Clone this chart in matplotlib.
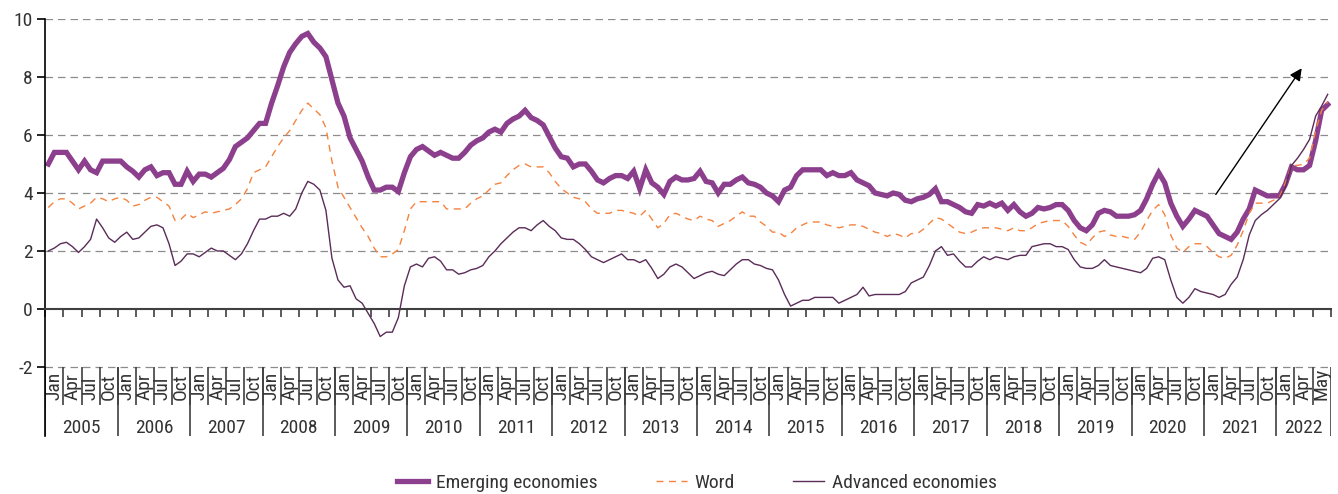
import numpy as np
import matplotlib
matplotlib.use("Agg")
import matplotlib.pyplot as plt

plt.rcParams['font.family'] = ['Liberation Sans Narrow', 'Roboto Condensed', 'DejaVu Sans']

# monthly series, Jan 2005 onwards (213 category slots on the axis)
emerging = [
    5.0, 5.4, 5.4, 5.4, 5.1, 4.8, 5.1, 4.8, 4.7, 5.1, 5.1, 5.1,
    5.1, 4.9, 4.75, 4.55, 4.8, 4.9, 4.6, 4.7, 4.7, 4.3, 4.3, 4.75,
    4.4, 4.65, 4.65, 4.55, 4.7, 4.85, 5.15, 5.6, 5.75, 5.9, 6.15, 6.4,
    6.4, 7.1, 7.7, 8.35, 8.85, 9.15, 9.4, 9.5, 9.2, 9.0, 8.7, 7.9,
    7.1, 6.65, 5.9, 5.5, 5.1, 4.55, 4.1, 4.1, 4.2, 4.2, 4.05, 4.7,
    5.25, 5.5, 5.6, 5.45, 5.3, 5.4, 5.3, 5.2, 5.2, 5.4, 5.65, 5.8,
    5.9, 6.1, 6.2, 6.1, 6.4, 6.55, 6.65, 6.85, 6.6, 6.5, 6.35, 5.95,
    5.55, 5.25, 5.2, 4.9, 5.0, 5.0, 4.75, 4.45, 4.35, 4.5, 4.6, 4.6,
    4.5, 4.75, 4.15, 4.8, 4.35, 4.2, 3.95, 4.4, 4.55, 4.45, 4.45, 4.5,
    4.75, 4.4, 4.35, 4.0, 4.3, 4.3, 4.45, 4.55, 4.35, 4.3, 4.2, 4.0,
    3.9, 3.7, 4.1, 4.2, 4.6, 4.8, 4.8, 4.8, 4.8, 4.6, 4.7, 4.6,
    4.6, 4.7, 4.45, 4.35, 4.25, 4.0, 3.95, 3.9, 4.0, 3.95, 3.75, 3.7,
    3.8, 3.85, 3.95, 4.15, 3.7, 3.7, 3.6, 3.5, 3.35, 3.3, 3.6, 3.55,
    3.65, 3.55, 3.65, 3.4, 3.6, 3.35, 3.2, 3.3, 3.5, 3.45, 3.5, 3.6,
    3.6, 3.4, 3.05, 2.8, 2.7, 2.9, 3.3, 3.4, 3.35, 3.2, 3.2, 3.2,
    3.25, 3.4, 3.8, 4.3, 4.7, 4.35, 3.65, 3.2, 2.85, 3.1, 3.4, 3.3,
    3.2, 2.9, 2.6, 2.5, 2.4, 2.65, 3.1, 3.45, 4.1, 4.0, 3.9, 3.9,
    3.9, 4.3, 4.9, 4.8, 4.8, 4.95, 5.8, 6.85, 7.05,
]
world = [
    3.5, 3.7, 3.8, 3.8, 3.65, 3.45, 3.55, 3.65, 3.85, 3.8, 3.7, 3.8,
    3.85, 3.75, 3.55, 3.6, 3.75, 3.85, 3.85, 3.7, 3.55, 3.05, 3.1, 3.3,
    3.15, 3.25, 3.35, 3.3, 3.35, 3.4, 3.45, 3.6, 3.8, 4.15, 4.7, 4.8,
    4.9, 5.25, 5.6, 5.9, 6.15, 6.5, 6.85, 7.1, 6.9, 6.7, 6.25, 5.1,
    4.2, 3.85, 3.5, 3.15, 2.8, 2.5, 2.1, 1.8, 1.8, 1.9, 2.05, 2.7,
    3.45, 3.7, 3.7, 3.7, 3.7, 3.7, 3.45, 3.45, 3.45, 3.45, 3.65, 3.8,
    3.9, 4.1, 4.3, 4.35, 4.6, 4.8, 4.95, 5.0, 4.9, 4.9, 4.9, 4.7,
    4.4, 4.15, 4.0, 3.85, 3.8, 3.7, 3.45, 3.3, 3.3, 3.3, 3.4, 3.4,
    3.35, 3.3, 3.2, 3.4, 3.1, 2.8, 2.95, 3.25, 3.3, 3.2, 3.1, 3.05,
    3.2, 3.1, 3.05, 2.85, 2.95, 3.05, 3.2, 3.35, 3.2, 3.2, 3.0, 2.85,
    2.65, 2.65, 2.5, 2.6, 2.8, 2.9, 3.0, 3.0, 3.0, 2.9, 2.85, 2.8,
    2.85, 2.9, 2.9, 2.85, 2.75, 2.65, 2.6, 2.5, 2.6, 2.55, 2.45, 2.6,
    2.6, 2.75, 2.95, 3.15, 3.1, 2.95, 2.8, 2.65, 2.6, 2.65, 2.75, 2.8,
    2.8, 2.8, 2.75, 2.7, 2.8, 2.7, 2.7, 2.8, 2.95, 3.0, 3.05, 3.05,
    3.05, 2.85, 2.55, 2.3, 2.2, 2.45, 2.65, 2.7, 2.55, 2.5, 2.5, 2.45,
    2.4, 2.65, 3.05, 3.4, 3.6, 3.25, 2.55, 2.1, 1.95, 2.15, 2.25, 2.25,
    2.15, 1.95, 1.8, 1.75, 1.85, 2.2, 2.7, 3.3, 3.65, 3.65, 3.65, 3.75,
    3.85, 4.35, 4.95, 4.95, 5.0, 5.2, 6.15, 6.85, 7.15,
]
advanced = [
    2.0, 2.1, 2.25, 2.3, 2.15, 1.95, 2.15, 2.4, 3.1, 2.8, 2.45, 2.3,
    2.5, 2.65, 2.4, 2.45, 2.65, 2.85, 2.9, 2.8, 2.25, 1.5, 1.65, 1.9,
    1.9, 1.8, 1.95, 2.1, 2.0, 2.0, 1.85, 1.7, 1.9, 2.25, 2.7, 3.1,
    3.1, 3.2, 3.2, 3.3, 3.2, 3.45, 4.0, 4.4, 4.3, 4.1, 3.4, 1.75,
    1.0, 0.75, 0.8, 0.35, 0.2, -0.15, -0.5, -0.95, -0.8, -0.8, -0.3, 0.8,
    1.45, 1.55, 1.45, 1.75, 1.8, 1.65, 1.35, 1.35, 1.2, 1.25, 1.35, 1.4,
    1.5, 1.8, 2.0, 2.25, 2.45, 2.65, 2.8, 2.8, 2.7, 2.9, 3.05, 2.85,
    2.7, 2.45, 2.4, 2.4, 2.25, 2.05, 1.8, 1.7, 1.6, 1.7, 1.8, 1.9,
    1.7, 1.7, 1.6, 1.7, 1.4, 1.05, 1.2, 1.45, 1.55, 1.45, 1.25, 1.05,
    1.15, 1.25, 1.3, 1.2, 1.15, 1.35, 1.55, 1.7, 1.7, 1.55, 1.5, 1.4,
    1.35, 1.0, 0.5, 0.1, 0.2, 0.3, 0.3, 0.4, 0.4, 0.4, 0.4, 0.2,
    0.3, 0.4, 0.5, 0.75, 0.45, 0.5, 0.5, 0.5, 0.5, 0.5, 0.6, 0.9,
    1.0, 1.1, 1.5, 2.0, 2.15, 1.85, 1.9, 1.65, 1.45, 1.45, 1.65, 1.8,
    1.7, 1.8, 1.75, 1.7, 1.8, 1.85, 1.85, 2.15, 2.2, 2.25, 2.25, 2.15,
    2.15, 2.05, 1.7, 1.45, 1.4, 1.4, 1.5, 1.7, 1.5, 1.45, 1.4, 1.35,
    1.3, 1.25, 1.4, 1.75, 1.8, 1.7, 1.0, 0.4, 0.2, 0.4, 0.7, 0.6,
    0.55, 0.5, 0.4, 0.5, 0.85, 1.1, 1.7, 2.55, 3.05, 3.25, 3.4, 3.6,
    3.8, 4.2, 4.95, 5.2, 5.5, 5.85, 6.65, 7.0, 7.4,
]

year_labels = ['2005', '2006', '2007', '2008', '2009', '2010', '2011', '2012', '2013',
               '2014', '2015', '2016', '2017', '2018', '2019', '2020', '2021', '2022']
months_in_year = [12] * 17 + [9]
month_labels = ['Jan', 'Apr', 'Jul', 'Oct']
last_month_labels = ['Jan', 'Apr', 'May']

purple = '#8c3f8c'
orange = '#f5823f'
dark = '#5a2c58'
txt = '#333333'

x = np.arange(len(emerging))

fig = plt.figure(figsize=(13.38, 4.94), dpi=100)
ax = fig.add_axes([45.3 / 1338, 58 / 494, 1285.4 / 1338, 417 / 494])

ax.plot(x, emerging, color=purple, lw=3.8, label='Emerging economies', solid_joinstyle='miter')
ax.plot(x, world, color=orange, lw=1.0, dashes=(5, 4), label='Word')
ax.plot(x, advanced, color=dark, lw=1.0, label='Advanced economies')

ax.set_xlim(-0.5, len(x) - 0.5)
ax.set_ylim(-4.38, 10)
ax.set_yticks([-2, 0, 2, 4, 6, 8, 10])
ax.set_yticklabels(['-2', '0', '2', '4', '6', '8', '10'])
for g in [-2, 2, 4, 6, 8, 10]:
    ax.axhline(g, color='#8c8c8c', lw=0.9, dashes=(6, 4), zorder=0)

for s in ['top', 'right']:
    ax.spines[s].set_visible(False)
ax.spines['left'].set_color('black')
ax.spines['left'].set_linewidth(1.2)
ax.spines['bottom'].set_position(('data', 0))
ax.spines['bottom'].set_color('#404040')
ax.spines['bottom'].set_linewidth(1.5)

ax.set_xticks(np.arange(-0.5, len(x), 3))
ax.set_xticklabels([])
ax.tick_params(axis='x', direction='out', length=5.5, width=1.2, color='#404040')
ax.tick_params(axis='y', direction='out', length=6, width=1.2, color='black',
               labelsize=14, labelcolor=txt, pad=3)

# two-level category axis drawn below the -2 line
start = 0
for yr, n in zip(year_labels, months_in_year):
    labs = month_labels if n == 12 else last_month_labels
    for k, lab in enumerate(labs):
        c = start + 3 * k
        ax.vlines(c - 0.5, -3.31, -2, color='#404040', lw=1.2)
        ax.text(c + 1, -3.14, lab, rotation=90, ha='center', va='bottom',
                fontsize=14, color=txt)
    ax.vlines(start - 0.5, -4.38, -2, color='#404040', lw=1.2)
    ax.text(start + (n - 1) / 2, -4.1, yr, ha='center', va='center', fontsize=14, color=txt)
    start += n
ax.vlines(start - 0.5, -4.38, -2, color='#404040', lw=1.2)

ax.annotate('', xy=(207.95, 8.38), xytext=(193.2, 3.87),
            arrowprops=dict(arrowstyle='-|>', color='black', lw=1.0, mutation_scale=18))

fig.legend(loc='center', bbox_to_anchor=(697 / 1338, 11 / 494), ncol=3, frameon=False,
           fontsize=14, handlelength=1.6, handletextpad=0.4, columnspacing=3.0,
           labelcolor=txt)

fig.savefig('out.png', dpi=100)
